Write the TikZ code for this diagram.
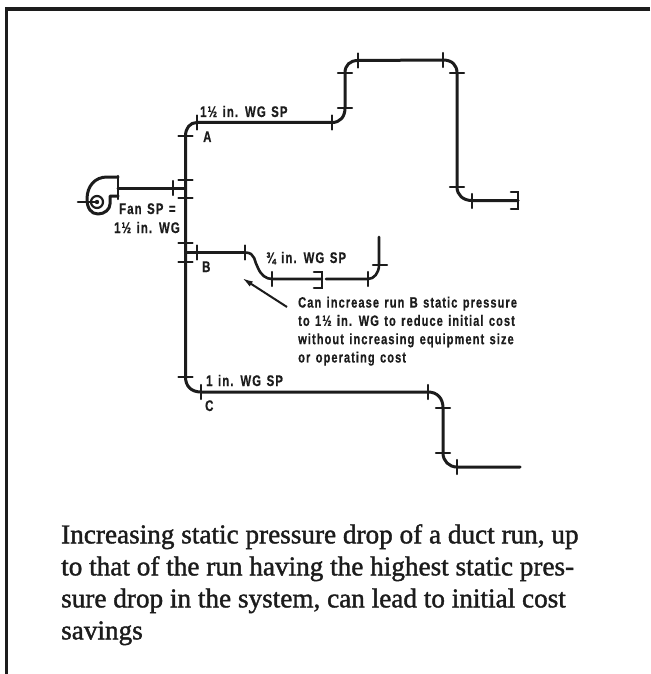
\documentclass[tikz,border=0pt]{standalone}
\usepackage{fontspec}
\setmainfont[FakeBold=1.4]{Liberation Serif}
\newfontfamily\labelfont[FakeStretch=0.74,LetterSpace=7,WordSpace=1.3,FakeBold=0.5]{Liberation Sans Bold}
\usetikzlibrary{arrows.meta}
\definecolor{ink}{HTML}{1C1C1C}
\tikzset{
  duct/.style={draw=ink,line width=3pt,line cap=round,line join=round},
  thin duct/.style={draw=ink,line width=2.6pt,line cap=round,line join=round},
  flange/.style={draw=ink,line width=2.2pt,line cap=round},
  lab/.style={inner sep=0pt,anchor=base west,text=ink,font=\labelfont\fontsize{15.4}{18.3}\selectfont},
  note/.style={lab,align=left,anchor=north west,font=\labelfont\fontsize{15}{18.3}\selectfont},
  caption/.style={inner sep=0pt,anchor=north west,align=left,text=ink,font=\fontsize{27.2}{32}\selectfont},
}
\newcommand{\vfl}[2]{\draw[flange] (#1,#2-7) -- (#1,#2+7);}
\newcommand{\hfl}[2]{\draw[flange] (#1-7,#2) -- (#1+7,#2);}
\begin{document}
\begin{tikzpicture}[x=1pt,y=-1pt]
\useasboundingbox (0,0) rectangle (650,674);
\fill[white] (0,0) rectangle (650,674);
% frame
\draw[draw=ink,line width=3.8pt] (650,9) -- (6,9);
\draw[draw=ink,line width=3pt] (6,7.5) -- (6,674);

% fan
\draw[thin duct] (78,202) -- (97,202);
\draw[duct] (118,177) -- (107,177) .. controls (95,177) and (87,186) .. (87,199)
  .. controls (87,208) and (91,214) .. (98,214) .. controls (105,214) and (110,209) .. (110,204)
  -- (110,196) -- (118,196);
\draw[flange] (118,176) -- (118,199);
\draw[flange] (97,202) circle (6);
\fill[ink] (97,202) circle (2.2);

% header duct
\draw[duct] (118,188) -- (185.5,188);
\vfl{173}{188}
\draw[duct] (185.5,377) -- (185.5,136) .. controls (185.5,128) and (190,122.5) .. (197,122.5) -- (332,122.5)
  .. controls (340,122.5) and (345,117) .. (345,108) -- (345,73)
  .. controls (345,65) and (350,60.5) .. (358,60.5) -- (443,60)
  .. controls (452,60) and (457,65) .. (457,73) -- (457,187)
  .. controls (457,195) and (463,200.5) .. (472,200.5) -- (518,200.5);
\draw[flange,line width=2.6pt] (511,192) -- (518,192) -- (518,209) -- (511,209);
\hfl{185.5}{136}\hfl{185.5}{180}\hfl{185.5}{198}\hfl{185.5}{243}\hfl{185.5}{262}\hfl{185.5}{377}
\vfl{197}{122.5}\vfl{332}{122.5}\hfl{345}{108}\hfl{345}{73}
\vfl{358}{60.5}\vfl{443}{60}\hfl{457}{73}\hfl{457}{187}\vfl{472}{201}

% run B
\draw[thin duct] (185.5,252.5) -- (245,252.5) .. controls (256,252.5) and (254,262) .. (258,268)
  .. controls (261,275) and (266,279) .. (272,279) -- (322,279);
\draw[flange,line width=2.6pt] (314,272) -- (322,272) -- (322,288) -- (314,288);
\draw[thin duct] (326,279) -- (368,279) .. controls (374,279) and (379,273) .. (379,265) -- (379,237);
\vfl{197}{252.5}\vfl{245}{252.5}\vfl{272}{279}\vfl{368}{279}\hfl{380}{265}

% run C
\draw[duct] (185.5,377) .. controls (185.5,386) and (191,392) .. (201,392) -- (428,392)
  .. controls (437,392) and (443,398) .. (443,408) -- (443,453)
  .. controls (443,461) and (449,467) .. (457,467) -- (520,467);
\vfl{201}{392}\vfl{428}{392}\hfl{443}{408}\hfl{443}{453}\vfl{457}{467}

% arrow
\coordinate (arrowtail) at (287,307);
\coordinate (arrowtip) at (242,278);
\draw[draw=ink,line width=2pt,-{Latex[length=11pt,width=6pt]}] (arrowtail) -- (arrowtip);

% labels
\node[lab] (la) at (200,117) {1½ in. WG SP};
\node[lab] (a) at (203,142) {A};
\node[lab] (fan1) at (119,214) {Fan SP =};
\node[lab] (fan2) at (114,233) {1½ in. WG};
\node[lab] (b) at (202,272) {B};
\node[lab] (lb) at (266,263) {¾ in. WG SP};
\node[lab] (lc) at (206,386) {1 in. WG SP};
\node[lab] (c) at (205,411) {C};
\node[note] (n) at (298,296.5) {Can increase run B static pressure\\to 1½ in. WG to reduce initial cost\\without increasing equipment size\\or operating cost};
\node[caption] (cap) at (61,524) {Increasing static pressure drop of a duct run, up\\to that of the run having the highest static pres-\\sure drop in the system, can lead to initial cost\\savings};
\end{tikzpicture}
\end{document}
